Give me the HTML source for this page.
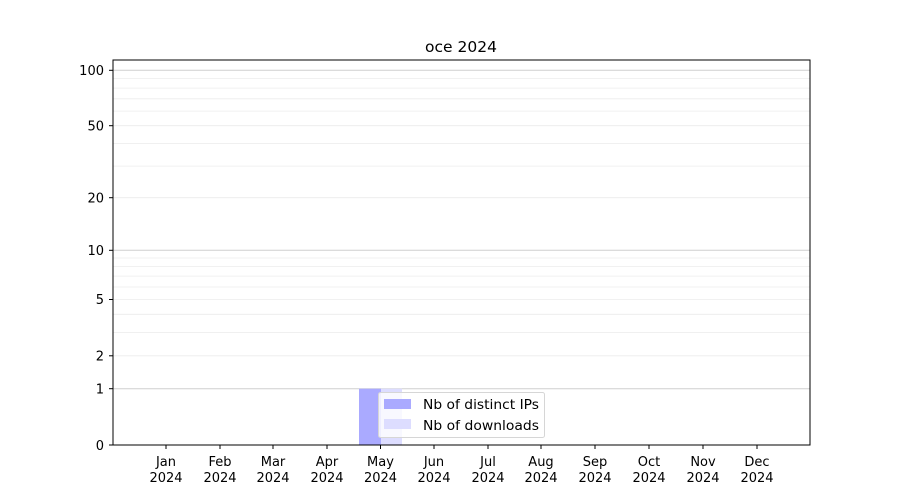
<!DOCTYPE html>
<html><head><meta charset="utf-8"><style>body{margin:0;background:#fff}svg{display:block}text{font-family:"DejaVu Sans","Liberation Sans",sans-serif;font-size:13px;fill:#000}</style></head><body>
<svg width="900" height="500" xmlns="http://www.w3.org/2000/svg">
<rect width="900" height="500" fill="#fff"/>
<g stroke="#ececec" stroke-width="0.8">
<line x1="113" x2="810" y1="355.8" y2="355.8"/><line x1="113" x2="810" y1="332.4" y2="332.4"/><line x1="113" x2="810" y1="314.3" y2="314.3"/><line x1="113" x2="810" y1="299.5" y2="299.5"/><line x1="113" x2="810" y1="287" y2="287"/><line x1="113" x2="810" y1="276.1" y2="276.1"/><line x1="113" x2="810" y1="266.5" y2="266.5"/><line x1="113" x2="810" y1="258" y2="258"/>
<line x1="113" x2="810" y1="197.7" y2="197.7"/><line x1="113" x2="810" y1="166.1" y2="166.1"/><line x1="113" x2="810" y1="143.4" y2="143.4"/><line x1="113" x2="810" y1="125.7" y2="125.7"/><line x1="113" x2="810" y1="111.1" y2="111.1"/><line x1="113" x2="810" y1="98.8" y2="98.8"/><line x1="113" x2="810" y1="88.1" y2="88.1"/><line x1="113" x2="810" y1="78.5" y2="78.5"/>
</g>
<g stroke="#cfcfcf" stroke-width="1">
<line x1="113" x2="810" y1="388.7" y2="388.7"/><line x1="113" x2="810" y1="250.3" y2="250.3"/><line x1="113" x2="810" y1="70.3" y2="70.3"/>
</g>
<rect x="359" y="388.7" width="22" height="56.3" fill="#aaaaff"/>
<rect x="381" y="388.7" width="21" height="56.3" fill="#ddddff"/>
<rect x="113" y="60" width="697" height="385" fill="none" stroke="#000" stroke-width="1"/>
<g stroke="#000"><line x1="109" x2="113" y1="445" y2="445"/><line x1="109" x2="113" y1="388.7" y2="388.7"/><line x1="109" x2="113" y1="355.8" y2="355.8"/><line x1="109" x2="113" y1="299.5" y2="299.5"/><line x1="109" x2="113" y1="250.3" y2="250.3"/><line x1="109" x2="113" y1="197.7" y2="197.7"/><line x1="109" x2="113" y1="125.7" y2="125.7"/><line x1="109" x2="113" y1="70.3" y2="70.3"/></g>
<g text-anchor="end"><text x="104" y="450">0</text><text x="104" y="393.5">1</text><text x="104" y="360.5">2</text><text x="104" y="304">5</text><text x="104" y="255">10</text><text x="104" y="202.5">20</text><text x="104" y="130.5">50</text><text x="104" y="75">100</text></g>
<g stroke="#000">
<line x1="166" x2="166" y1="445" y2="449"/><line x1="220" x2="220" y1="445" y2="449"/><line x1="273" x2="273" y1="445" y2="449"/><line x1="327" x2="327" y1="445" y2="449"/><line x1="380.5" x2="380.5" y1="445" y2="449"/><line x1="434" x2="434" y1="445" y2="449"/><line x1="488" x2="488" y1="445" y2="449"/><line x1="541" x2="541" y1="445" y2="449"/><line x1="595" x2="595" y1="445" y2="449"/><line x1="649" x2="649" y1="445" y2="449"/><line x1="703" x2="703" y1="445" y2="449"/><line x1="757" x2="757" y1="445" y2="449"/></g>
<g text-anchor="middle">
<text x="166" y="466">Jan</text><text x="166" y="482">2024</text>
<text x="220" y="466">Feb</text><text x="220" y="482">2024</text>
<text x="273" y="466">Mar</text><text x="273" y="482">2024</text>
<text x="327" y="466">Apr</text><text x="327" y="482">2024</text>
<text x="380.5" y="466">May</text><text x="380.5" y="482">2024</text>
<text x="434" y="466">Jun</text><text x="434" y="482">2024</text>
<text x="488" y="466">Jul</text><text x="488" y="482">2024</text>
<text x="541" y="466">Aug</text><text x="541" y="482">2024</text>
<text x="595" y="466">Sep</text><text x="595" y="482">2024</text>
<text x="649" y="466">Oct</text><text x="649" y="482">2024</text>
<text x="703" y="466">Nov</text><text x="703" y="482">2024</text>
<text x="757" y="466">Dec</text><text x="757" y="482">2024</text>
<text x="461" y="52" style="font-size:15.5px">oce 2024</text>
</g>
<rect x="378.5" y="392.5" width="166" height="45" rx="2" fill="#fff" fill-opacity="0.8" stroke="#d6d6d6"/>
<rect x="384" y="399" width="27" height="10" fill="#aaaaff"/>
<rect x="384" y="419" width="27" height="10" fill="#ddddff"/>
<text x="423" y="409" textLength="116" lengthAdjust="spacingAndGlyphs">Nb of distinct IPs</text>
<text x="423" y="430" textLength="116" lengthAdjust="spacingAndGlyphs">Nb of downloads</text>
</svg>
</body></html>
